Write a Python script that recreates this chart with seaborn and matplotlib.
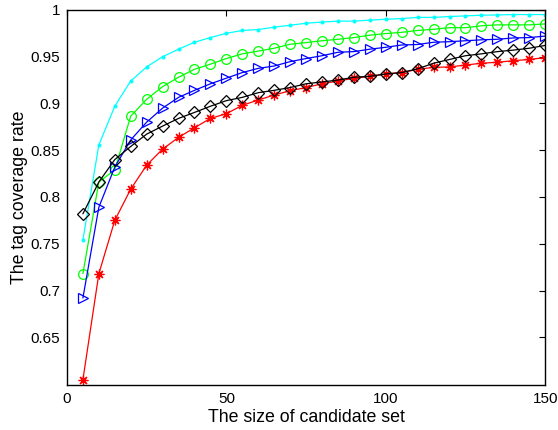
import matplotlib
matplotlib.use("Agg")
import matplotlib.pyplot as plt
import seaborn as sns
import pandas as pd
import numpy as np

sizes = list(range(5, 151, 5))

cyan_vals = [0.754, 0.8555, 0.897, 0.924, 0.939, 0.950, 0.958, 0.9654, 0.9704, 0.975, 0.978,
             0.979, 0.9815, 0.9836, 0.9857, 0.987, 0.988, 0.988, 0.989, 0.990, 0.9907,
             0.992, 0.992, 0.9929, 0.9936, 0.9943, 0.9946, 0.995, 0.995, 0.995]
green_vals = [0.718, 0.816, 0.829, 0.8865, 0.9044, 0.918, 0.928, 0.9365, 0.942, 0.948, 0.953,
              0.956, 0.959, 0.9633, 0.965, 0.967, 0.9686, 0.9704, 0.973, 0.9747, 0.976,
              0.978, 0.9793, 0.981, 0.981, 0.983, 0.984, 0.984, 0.984, 0.985]
blue_vals = [0.692, 0.789, 0.832, 0.861, 0.880, 0.895, 0.9065, 0.914, 0.921, 0.927, 0.933,
             0.9375, 0.940, 0.9447, 0.948, 0.951, 0.9547, 0.9554, 0.958, 0.960, 0.9625,
             0.963, 0.9654, 0.966, 0.967, 0.968, 0.9686, 0.970, 0.9704, 0.972]
black_vals = [0.782, 0.816, 0.840, 0.854, 0.8672, 0.8758, 0.884, 0.8904, 0.897, 0.903, 0.9065,
              0.9115, 0.914, 0.917, 0.921, 0.923, 0.925, 0.928, 0.929, 0.9315, 0.933,
              0.937, 0.943, 0.947, 0.951, 0.953, 0.9554, 0.957, 0.959, 0.962]
red_vals = [0.6046, 0.718, 0.775, 0.8084, 0.834, 0.8512, 0.8637, 0.874, 0.884, 0.889, 0.898,
            0.9036, 0.909, 0.9136, 0.917, 0.921, 0.924, 0.9268, 0.929, 0.9315, 0.933,
            0.9365, 0.9386, 0.939, 0.941, 0.943, 0.944, 0.9457, 0.947, 0.949]

x_ticks = [0, 50, 100, 150]
y_ticks = [0.65, 0.7, 0.75, 0.8, 0.85, 0.9, 0.95, 1]
y_tick_labels = ["0.65", "0.7", "0.75", "0.8", "0.85", "0.9", "0.95", "1"]

sns.set_theme(style="white")
plt.rcParams["font.family"] = ["Liberation Sans", "DejaVu Sans"]

fig = plt.figure(figsize=(5.58, 4.30), dpi=100)
ax = fig.add_axes([0.120, 0.1035, 0.857, 0.8735])

series = [
    ("red", red_vals, (8, 2, 0), dict(color="#ff0000", markersize=7, markerfacecolor="#ff0000", markeredgecolor="#ff0000")),
    ("cyan", cyan_vals, ".", dict(color="#00ffff", markersize=4, markerfacecolor="#00ffff", markeredgecolor="#00ffff")),
    ("green", green_vals, "o", dict(color="#00ff00", markersize=7, markerfacecolor="none", markeredgecolor="#00ff00")),
    ("blue", blue_vals, ">", dict(color="#0000ff", markersize=7, markerfacecolor="none", markeredgecolor="#0000ff")),
    ("black", black_vals, "D", dict(color="#000000", markersize=6.3, markerfacecolor="none", markeredgecolor="#000000")),
]

for name, vals, mk, style in series:
    df = pd.DataFrame({"size": sizes, "rate": vals})
    sns.lineplot(data=df, x="size", y="rate", ax=ax, marker=mk, linewidth=0.9,
                 markeredgewidth=0.9, legend=False, **style)

ax.set_xlim(0, 150)
ax.set_ylim(0.5985, 1)
ax.set_xticks(x_ticks)
ax.set_yticks(y_ticks)
ax.set_yticklabels(y_tick_labels)
ax.tick_params(direction="in", length=4, width=0.8, top=True, right=True,
               labelsize=11, colors="black", pad=5)
ax.tick_params(axis="x", labeltop=False)
ax.tick_params(axis="y", labelright=False)
for s in ax.spines.values():
    s.set_color("black")
    s.set_linewidth(1.0)
ax.set_xlabel("The size of candidate set", fontsize=12.8, color="black", labelpad=2)
ax.set_ylabel("The tag coverage rate", fontsize=12.8, color="black", labelpad=2)

fig.savefig("out.png", dpi=100)
